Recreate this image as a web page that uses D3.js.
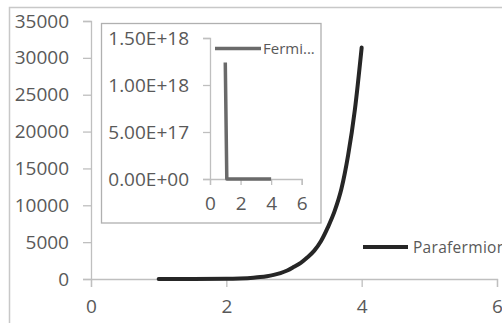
<!DOCTYPE html>
<html><head><meta charset="utf-8">
<script src="https://cdn.jsdelivr.net/npm/d3@7"></script>
<style>
html,body{margin:0;padding:0;background:#fff;overflow:hidden;}
svg{display:block;font-family:"Open Sans",sans-serif;}
</style></head>
<body>
<script>
// Main chart data: Parafermion
const paraX = [1, 1.5, 2.0, 2.2, 2.4, 2.5, 2.6, 2.7, 2.8, 2.9, 3.0, 3.1, 3.2, 3.3, 3.4, 3.5, 3.6, 3.7, 3.8, 3.9, 4.0];
const paraY = [0, 5, 30, 80, 180, 260, 380, 560, 800, 1150, 1650, 2200, 2950, 3850, 5150, 7000, 9200, 12200, 16800, 23000, 31400];
const mainYTicks = [0, 5000, 10000, 15000, 20000, 25000, 30000, 35000];
const mainXTicks = [0, 2, 4, 6];
// Inset data: Fermion
const fermiX = [1, 1.1, 1.5, 2, 2.5, 3, 3.5, 4];
const fermiY = [1.24e18, 0, 0, 0, 0, 0, 0, 0];
const insetYTicks = [0, 5e17, 1e18, 1.5e18];
const insetYLabels = ["0.00E+00", "5.00E+17", "1.00E+18", "1.50E+18"];
const insetXTicks = [0, 2, 4, 6];
const seriesNames = ["Parafermion", "Fermi..."];

const W = 502, H = 323;
const svg = d3.select("body").append("svg").attr("width", W).attr("height", H);
const textCol = "#595959", axisCol = "#bfbfbf";

// outer frame
svg.append("rect").attr("x", 9.5).attr("y", 7.5).attr("width", 520).attr("height", 330)
  .attr("fill", "none").attr("stroke", "#c8c8c8").attr("stroke-width", 1.5);

// main scales
const x = d3.scaleLinear().domain([0, 6]).range([91, 497]);
const y = d3.scaleLinear().domain([0, 35000]).range([279, 21]);

const gy = svg.append("g").attr("transform", "translate(91,0)")
  .call(d3.axisLeft(y).tickValues(mainYTicks).tickSize(8).tickPadding(14).tickFormat(d3.format("d")));
const gx = svg.append("g").attr("transform", "translate(0,279)")
  .call(d3.axisBottom(x).tickValues(mainXTicks).tickSize(8).tickPadding(13).tickFormat(d3.format("d")));
[gx, gy].forEach(g => {
  g.select(".domain").attr("stroke", axisCol).attr("stroke-width", 1.3);
  g.selectAll(".tick line").attr("stroke", axisCol).attr("stroke-width", 1.3);
  g.selectAll("text").attr("fill", textCol).style("font-size", "19px").style("font-family", "'Open Sans',sans-serif");
});

// main line
const paraData = paraX.map((v, i) => [v, paraY[i]]);
svg.append("path").datum(paraData)
  .attr("fill", "none").attr("stroke", "#262626").attr("stroke-width", 4)
  .attr("stroke-linejoin", "round").attr("stroke-linecap", "round")
  .attr("d", d3.line().x(d => x(d[0])).y(d => y(d[1])).curve(d3.curveMonotoneX));

// main legend
svg.append("line").attr("x1", 363).attr("x2", 408).attr("y1", 247).attr("y2", 247)
  .attr("stroke", "#262626").attr("stroke-width", 4);
svg.append("text").attr("x", 413).attr("y", 252.5).attr("fill", textCol)
  .style("font-size", "15.5px").style("letter-spacing", "0.3px").text(seriesNames[0]);

// inset
svg.append("rect").attr("x", 101.5).attr("y", 23.5).attr("width", 219.5).attr("height", 199.5)
  .attr("fill", "#fff").attr("stroke", "#b0b0b0").attr("stroke-width", 1.3);

const xi = d3.scaleLinear().domain([0, 6]).range([210, 301.7]);
const yi = d3.scaleLinear().domain([0, 1.5e18]).range([179, 38]);
const giy = svg.append("g").attr("transform", "translate(210,0)")
  .call(d3.axisLeft(yi).tickValues(insetYTicks).tickSize(7).tickPadding(14)
    .tickFormat((d, i) => insetYLabels[i]));
const gix = svg.append("g").attr("transform", "translate(0,179)")
  .call(d3.axisBottom(xi).tickValues(insetXTicks).tickSize(6).tickPadding(12).tickFormat(d3.format("d")));
[gix, giy].forEach(g => {
  g.select(".domain").attr("stroke", axisCol).attr("stroke-width", 1.3);
  g.selectAll(".tick line").attr("stroke", axisCol).attr("stroke-width", 1.3);
  g.selectAll("text").attr("fill", textCol).style("font-size", "19px").style("font-family", "'Open Sans',sans-serif");
});

const fermiData = fermiX.map((v, i) => [v, fermiY[i]]);
svg.append("path").datum(fermiData)
  .attr("fill", "none").attr("stroke", "#6a6a6a").attr("stroke-width", 3.5)
  .attr("stroke-linejoin", "round")
  .attr("d", d3.line().x(d => xi(d[0])).y(d => yi(d[1])));

svg.append("line").attr("x1", 215).attr("x2", 261).attr("y1", 48.5).attr("y2", 48.5)
  .attr("stroke", "#6a6a6a").attr("stroke-width", 3.5);
svg.append("text").attr("x", 263).attr("y", 53.5).attr("fill", textCol)
  .style("font-size", "15px").text(seriesNames[1]);
</script>
</body></html>
